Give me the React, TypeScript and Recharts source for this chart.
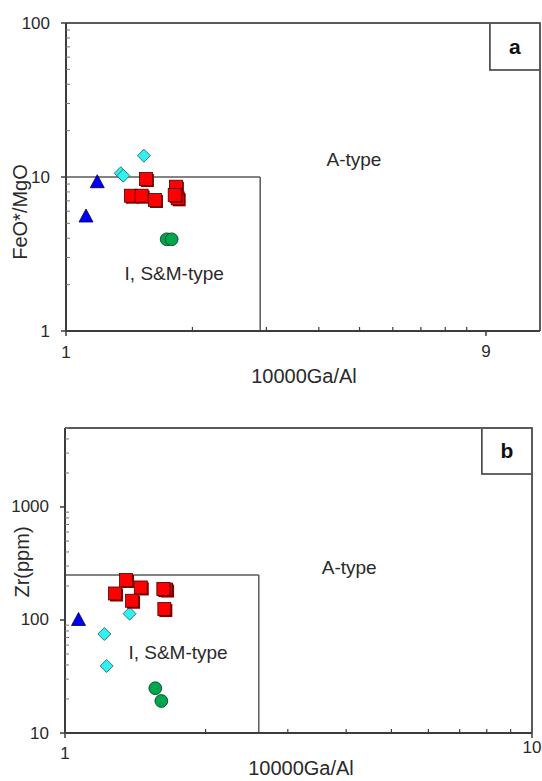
import React from "react";
import {
  ScatterChart,
  Scatter,
  XAxis,
  YAxis,
  ReferenceLine,
  ReferenceArea,
  ReferenceDot,
  Label,
} from "recharts";

const FONT = "'Liberation Sans', Arial, sans-serif";

// ---------- Panel a : FeO*/MgO vs 10000Ga/Al ----------
const aTriangle = [
  { x: 1.116, y: 5.58 },
  { x: 1.187, y: 9.32 },
];
const aDiamond = [
  { x: 1.533, y: 13.75 },
  { x: 1.35, y: 10.57 },
  { x: 1.369, y: 10.2 },
];
const aSquare = [
  { x: 1.55, y: 9.7 },
  { x: 1.428, y: 7.56 },
  { x: 1.514, y: 7.56 },
  { x: 1.629, y: 7.09 },
  { x: 1.845, y: 7.27 },
  { x: 1.827, y: 8.65 },
  { x: 1.815, y: 7.64 },
];
const aCircle = [
  { x: 1.737, y: 3.94 },
  { x: 1.785, y: 3.94 },
];
const aXTicks = [1, 2, 3, 4, 5, 6, 7, 8, 9, 10];
const aXLabels: Record<number, string> = { 1: "1", 10: "9" };
const aYTicks = [1, 2, 3, 4, 5, 6, 7, 8, 9, 10, 20, 30, 40, 50, 60, 70, 80, 90, 100];
const aYLabels: Record<number, string> = { 1: "1", 10: "10", 100: "100" };
const aXDomain = [1, 13.45];
const aYDomain = [1, 100];
const aBoxX = 2.9;
const aBoxY = 10;

// ---------- Panel b : Zr vs 10000Ga/Al ----------
const bTriangle = [{ x: 1.069, y: 101 }];
const bDiamond = [
  { x: 1.375, y: 113.7 },
  { x: 1.214, y: 75.2 },
  { x: 1.228, y: 39.2 },
];
const bSquare = [
  { x: 1.351, y: 226 },
  { x: 1.28, y: 171.6 },
  { x: 1.453, y: 194 },
  { x: 1.392, y: 148 },
  { x: 1.646, y: 186 },
  { x: 1.624, y: 188 },
  { x: 1.632, y: 125 },
];
const bCircle = [
  { x: 1.561, y: 24.9 },
  { x: 1.608, y: 19.2 },
];
const bXTicks = [1, 2, 3, 4, 5, 6, 7, 8, 9, 10];
const bXLabels: Record<number, string> = { 1: "1", 10: "10" };
const bYTicks = [
  10, 20, 30, 40, 50, 60, 70, 80, 90, 100, 200, 300, 400, 500, 600, 700, 800, 900, 1000,
  2000, 3000, 4000, 5000,
];
const bYLabels: Record<number, string> = { 10: "10", 100: "100", 1000: "1000" };
const bXDomain = [1, 10];
const bYDomain = [10, 5000];
const bBoxX = 2.6;
const bBoxY = 250;

const AXIS = "#3c3c3c";
const FRAME = "#5a5a5a";
const TEXT = "#2a2a2a";

const SquareShape = (p: any) => (
  <g>
    <rect x={p.cx - 5} y={p.cy - 5} width={13} height={13} fill="#8a0000" />
    <rect x={p.cx - 6.5} y={p.cy - 6.5} width={13} height={13} fill="#ff0000" stroke="#4a0000" strokeWidth={0.8} />
  </g>
);
const DiamondShape = (p: any) => (
  <path
    d={`M${p.cx},${p.cy - 6.5} L${p.cx + 6.5},${p.cy} L${p.cx},${p.cy + 6.5} L${p.cx - 6.5},${p.cy} Z`}
    fill="#33f0f0"
    stroke="#1d5c5c"
    strokeWidth={0.8}
  />
);
const TriangleShape = (p: any) => (
  <path
    d={`M${p.cx},${p.cy - 7} L${p.cx + 7},${p.cy + 6} L${p.cx - 7},${p.cy + 6} Z`}
    fill="#0000f0"
    stroke="#000050"
    strokeWidth={0.8}
  />
);
const CircleShape = (p: any) => (
  <circle cx={p.cx} cy={p.cy} r={6.4} fill="#00a64e" stroke="#003a1a" strokeWidth={0.8} />
);

const makeXTick = (labels: Record<number, string>, dys: Record<number, number>) => (props: any) => {
  const { x, y, payload } = props;
  const v = payload.value;
  const lab = labels[v];
  return (
    <g>
      {lab !== undefined ? (
        <line x1={x} x2={x} y1={y} y2={y + 5} stroke={AXIS} strokeWidth={1.5} />
      ) : (
        <line x1={x} x2={x} y1={y - 4} y2={y} stroke={AXIS} strokeWidth={1.2} />
      )}
      {lab !== undefined && (
        <text
          x={x}
          y={y + (dys[v] ?? 20)}
          textAnchor="middle"
          dominantBaseline="central"
          fontFamily={FONT}
          fontSize={17}
          fill={TEXT}
        >
          {lab}
        </text>
      )}
    </g>
  );
};

const makeYTick = (labels: Record<number, string>) => (props: any) => {
  const { x, y, payload } = props;
  const lab = labels[payload.value];
  return (
    <g>
      {lab !== undefined ? (
        <line x1={x - 5} x2={x} y1={y} y2={y} stroke={AXIS} strokeWidth={1.5} />
      ) : (
        <line x1={x} x2={x + 4} y1={y} y2={y} stroke="#777" strokeWidth={1} />
      )}
      {lab !== undefined && (
        <text
          x={x - 16}
          y={y}
          textAnchor="end"
          dominantBaseline="central"
          fontFamily={FONT}
          fontSize={17}
          fill={TEXT}
        >
          {lab}
        </text>
      )}
    </g>
  );
};

const textShape = (txt: string, size: number) => (p: any) => (
  <text
    x={p.cx}
    y={p.cy}
    textAnchor="middle"
    dominantBaseline="central"
    fontFamily={FONT}
    fontSize={size}
    fill={TEXT}
  >
    {txt}
  </text>
);

const yTitle = (txt: string, cx: number, cy: number) => () => (
  <text
    x={cx}
    y={cy}
    transform={`rotate(-90 ${cx} ${cy})`}
    textAnchor="middle"
    dominantBaseline="central"
    fontFamily={FONT}
    fontSize={20}
    fill={TEXT}
  >
    {txt}
  </text>
);
const xTitle = (txt: string, cx: number, cy: number) => () => (
  <text
    x={cx}
    y={cy}
    textAnchor="middle"
    dominantBaseline="central"
    fontFamily={FONT}
    fontSize={20}
    fill={TEXT}
  >
    {txt}
  </text>
);

export default function App() {
  return (
    <div style={{ position: "absolute", left: 0, top: 0, width: 542, height: 781, background: "#fff" }}>
      <div style={{ position: "absolute", left: 0, top: 0 }}>
        <ScatterChart width={542} height={390} margin={{ top: 23, right: 2, left: 0, bottom: 0 }}>
          <XAxis
            type="number"
            dataKey="x"
            scale="log"
            domain={aXDomain}
            allowDataOverflow
            ticks={aXTicks}
            interval={0}
            tick={makeXTick(aXLabels, { 1: 21, 10: 20 })}
            tickLine={false}
            tickSize={0}
            tickMargin={0}
            height={59}
            axisLine={{ stroke: AXIS, strokeWidth: 2 }}
          >
            <Label content={xTitle("10000Ga/Al", 304, 376)} />
          </XAxis>
          <YAxis
            type="number"
            dataKey="y"
            scale="log"
            domain={aYDomain}
            allowDataOverflow
            ticks={aYTicks}
            interval={0}
            tick={makeYTick(aYLabels)}
            tickLine={false}
            tickSize={0}
            tickMargin={0}
            width={66}
            axisLine={{ stroke: AXIS, strokeWidth: 2 }}
          >
            <Label content={yTitle("FeO*/MgO", 20, 212)} />
          </YAxis>
          <ReferenceLine y={aYDomain[1]} stroke={FRAME} strokeWidth={2} ifOverflow="visible" />
          <ReferenceLine x={aXDomain[1]} stroke={FRAME} strokeWidth={2} ifOverflow="visible" />
          <ReferenceLine
            segment={[{ x: aXDomain[0], y: aBoxY }, { x: aBoxX, y: aBoxY }]}
            stroke={FRAME}
            strokeWidth={1.5}
            ifOverflow="visible"
          />
          <ReferenceLine
            segment={[{ x: aBoxX, y: aYDomain[0] }, { x: aBoxX, y: aBoxY }]}
            stroke={FRAME}
            strokeWidth={1.5}
            ifOverflow="visible"
          />
          <ReferenceArea
            x1={10.22}
            x2={aXDomain[1]}
            y1={49.5}
            y2={aYDomain[1]}
            fill="#fff"
            fillOpacity={1}
            stroke="#333"
            strokeWidth={1.5}
            ifOverflow="visible"
          >
            <Label value="a" position="center" fontFamily={FONT} fontSize={21} fontWeight="bold" fill="#111" />
          </ReferenceArea>
          <ReferenceDot x={4.85} y={12.9} shape={textShape("A-type", 19)} ifOverflow="visible" />
          <ReferenceDot x={1.81} y={2.38} shape={textShape("I, S&M-type", 19)} ifOverflow="visible" />
          <Scatter data={aTriangle} shape={TriangleShape} isAnimationActive={false} />
          <Scatter data={aDiamond} shape={DiamondShape} isAnimationActive={false} />
          <Scatter data={aSquare} shape={SquareShape} isAnimationActive={false} />
          <Scatter data={aCircle} shape={CircleShape} isAnimationActive={false} />
        </ScatterChart>
      </div>
      <div style={{ position: "absolute", left: 0, top: 390 }}>
        <ScatterChart width={542} height={391} margin={{ top: 38, right: 10, left: 0, bottom: 0 }}>
          <XAxis
            type="number"
            dataKey="x"
            scale="log"
            domain={bXDomain}
            allowDataOverflow
            ticks={bXTicks}
            interval={0}
            tick={makeXTick(bXLabels, { 1: 20, 10: 14 })}
            tickLine={false}
            tickSize={0}
            tickMargin={0}
            height={48}
            axisLine={{ stroke: AXIS, strokeWidth: 2 }}
          >
            <Label content={xTitle("10000Ga/Al", 301, 378)} />
          </XAxis>
          <YAxis
            type="number"
            dataKey="y"
            scale="log"
            domain={bYDomain}
            allowDataOverflow
            ticks={bYTicks}
            interval={0}
            tick={makeYTick(bYLabels)}
            tickLine={false}
            tickSize={0}
            tickMargin={0}
            width={65}
            axisLine={{ stroke: AXIS, strokeWidth: 2 }}
          >
            <Label content={yTitle("Zr(ppm)", 22, 172)} />
          </YAxis>
          <ReferenceLine y={bYDomain[1]} stroke={FRAME} strokeWidth={2} ifOverflow="visible" />
          <ReferenceLine x={bXDomain[1]} stroke={FRAME} strokeWidth={2} ifOverflow="visible" />
          <ReferenceLine
            segment={[{ x: bXDomain[0], y: bBoxY }, { x: bBoxX, y: bBoxY }]}
            stroke={FRAME}
            strokeWidth={1.5}
            ifOverflow="visible"
          />
          <ReferenceLine
            segment={[{ x: bBoxX, y: bYDomain[0] }, { x: bBoxX, y: bBoxY }]}
            stroke={FRAME}
            strokeWidth={1.5}
            ifOverflow="visible"
          />
          <ReferenceArea
            x1={7.81}
            x2={bXDomain[1]}
            y1={1959}
            y2={bYDomain[1]}
            fill="#fff"
            fillOpacity={1}
            stroke="#333"
            strokeWidth={1.5}
            ifOverflow="visible"
          >
            <Label value="b" position="center" fontFamily={FONT} fontSize={21} fontWeight="bold" fill="#111" />
          </ReferenceArea>
          <ReferenceDot x={4.06} y={294} shape={textShape("A-type", 19)} ifOverflow="visible" />
          <ReferenceDot x={1.746} y={52} shape={textShape("I, S&M-type", 19)} ifOverflow="visible" />
          <Scatter data={bTriangle} shape={TriangleShape} isAnimationActive={false} />
          <Scatter data={bDiamond} shape={DiamondShape} isAnimationActive={false} />
          <Scatter data={bSquare} shape={SquareShape} isAnimationActive={false} />
          <Scatter data={bCircle} shape={CircleShape} isAnimationActive={false} />
        </ScatterChart>
      </div>
    </div>
  );
}
